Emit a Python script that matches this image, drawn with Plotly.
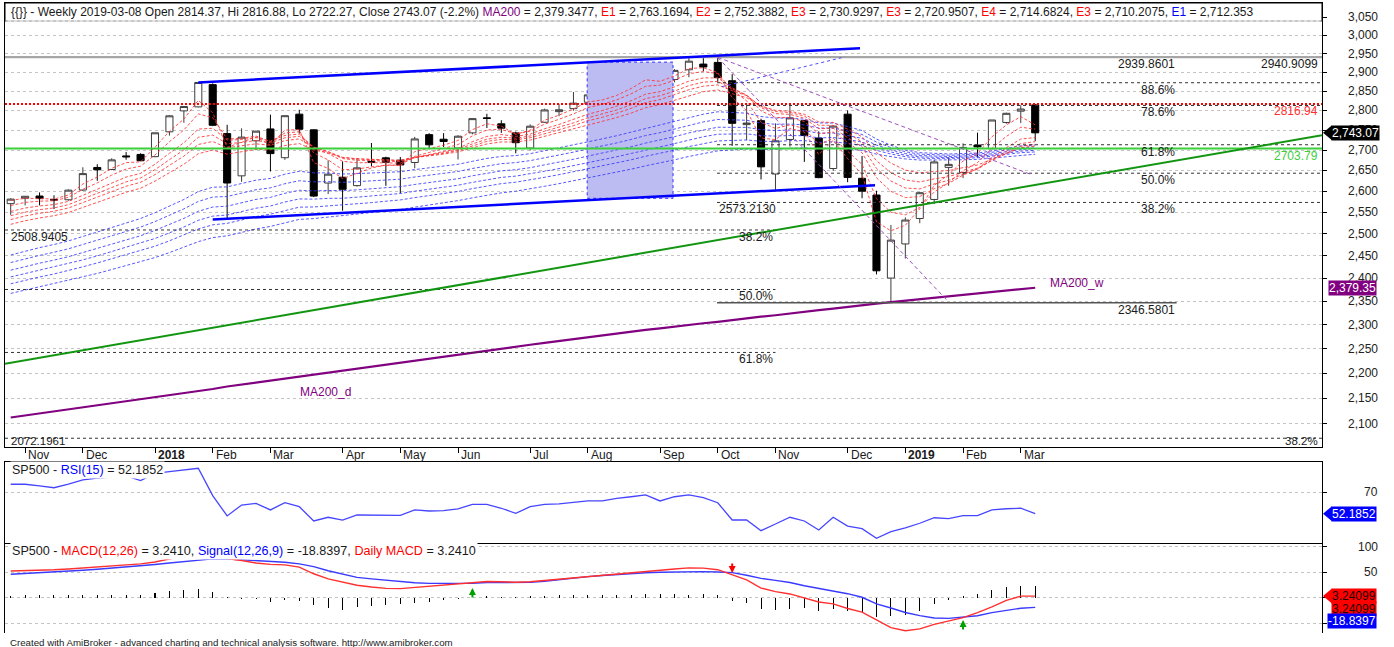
import math
import plotly.graph_objects as go

# ---------------- data (weekly S&P 500, index 0 = 2017-10-27 ... 71 = 2019-03-08) ----------------
open_ = [2570.3, 2583.2, 2588.4, 2580.2, 2579.5, 2602.7, 2657.2, 2652.2, 2685.5, 2689.2,
         2683.7, 2745.6, 2798.9, 2809.2, 2867.2, 2741.1, 2636.8, 2723.0, 2752.9, 2681.1,
         2790.5, 2750.6, 2619.4, 2633.5, 2613.2, 2672.0, 2680.8, 2675.0, 2669.4, 2738.5,
         2727.0, 2705.1, 2742.9, 2781.0, 2765.8, 2742.9, 2705.0, 2769.8, 2797.0, 2804.6,
         2821.2, 2840.3, 2827.9, 2853.9, 2876.2, 2896.9, 2880.7, 2906.6, 2921.8, 2926.3,
         2877.5, 2763.8, 2773.9, 2641.3, 2726.4, 2773.9, 2730.1, 2654.6, 2790.5, 2630.9,
         2590.8, 2400.6, 2477.0, 2535.6, 2580.3, 2657.4, 2644.9, 2712.4, 2703.1, 2769.3,
         2798.2, 2814.37]
high_ = [2583.0, 2588.4, 2597.0, 2590.1, 2604.2, 2657.7, 2665.2, 2679.6, 2695.0, 2692.1,
         2743.5, 2787.9, 2810.3, 2872.9, 2870.6, 2763.4, 2754.4, 2747.8, 2789.2, 2786.6,
         2801.9, 2752.0, 2674.8, 2672.1, 2680.3, 2717.5, 2683.6, 2682.9, 2732.9, 2742.1,
         2742.2, 2736.9, 2779.9, 2791.5, 2775.0, 2746.1, 2764.4, 2804.5, 2816.8, 2848.0,
         2840.4, 2863.4, 2855.6, 2876.2, 2916.5, 2900.2, 2908.3, 2940.9, 2939.9, 2939.86,
         2894.8, 2816.9, 2778.9, 2766.9, 2815.2, 2776.0, 2746.8, 2760.9, 2800.2, 2685.4,
         2601.1, 2520.3, 2538.1, 2597.8, 2675.5, 2681.8, 2716.7, 2743.5, 2775.7, 2794.2,
         2813.5, 2816.88]
low_ = [2544.0, 2566.2, 2566.3, 2557.5, 2577.5, 2600.6, 2624.8, 2650.5, 2676.1, 2673.6,
        2682.4, 2736.1, 2768.6, 2808.1, 2759.97, 2532.69, 2622.5, 2699.8, 2647.5, 2675.8,
        2741.4, 2585.9, 2593.1, 2553.8, 2610.8, 2660.0, 2612.7, 2594.6, 2655.2, 2701.9,
        2707.4, 2676.8, 2739.5, 2755.2, 2743.0, 2692.0, 2699.0, 2768.5, 2785.2, 2799.5,
        2795.1, 2830.9, 2802.5, 2850.0, 2876.2, 2864.1, 2873.2, 2886.8, 2903.3, 2874.3,
        2710.5, 2724.5, 2628.2, 2603.5, 2708.7, 2670.8, 2631.1, 2649.1, 2621.5, 2583.2,
        2408.6, 2346.58, 2444.0, 2524.6, 2569.3, 2612.9, 2631.4, 2681.8, 2702.4, 2766.0,
        2767.7, 2722.27]
close_ = [2581.07, 2587.84, 2582.30, 2578.85, 2602.42, 2642.22, 2651.50, 2675.81, 2683.34, 2673.61,
          2743.15, 2786.24, 2810.30, 2872.87, 2762.13, 2619.55, 2732.22, 2747.30, 2691.25, 2786.57,
          2752.01, 2588.26, 2640.87, 2604.47, 2656.30, 2670.14, 2669.91, 2663.42, 2727.72, 2712.97,
          2721.33, 2734.62, 2779.03, 2779.66, 2754.88, 2718.37, 2759.82, 2801.31, 2801.83, 2818.82,
          2840.35, 2833.28, 2850.13, 2874.69, 2901.52, 2871.68, 2904.98, 2929.67, 2913.98, 2885.57,
          2767.13, 2767.78, 2658.69, 2723.06, 2781.01, 2736.27, 2632.56, 2760.17, 2633.08, 2599.95,
          2416.62, 2485.74, 2531.94, 2596.26, 2670.71, 2664.76, 2706.53, 2707.88, 2775.60, 2792.67,
          2803.69, 2743.07]

month_idx = [1, 5, 10, 14, 18, 23, 27, 31, 36, 40, 45, 49, 53, 58, 62, 66, 70]
month_lbl = ["Nov", "Dec", "2018", "Feb", "Mar", "Apr", "May", "Jun", "Jul", "Aug", "Sep",
             "Oct", "Nov", "Dec", "2019", "Feb", "Mar"]
price_ticks = [2100, 2150, 2200, 2250, 2300, 2350, 2400, 2450, 2500, 2550, 2600, 2650, 2700,
               2750, 2800, 2850, 2900, 2950, 3000, 3050]
rsi_ticks = [70]
macd_ticks = [100, 50]

# short EMA ribbon (red)
ema3 = [2578, 2583, 2582.5, 2581, 2591, 2617, 2634, 2655, 2669, 2671, 2707, 2747, 2778, 2826, 2794,
        2707, 2719, 2733, 2712, 2750, 2751, 2669, 2655, 2630, 2643, 2656, 2663, 2663, 2696, 2704,
        2712, 2724, 2751, 2766, 2760, 2739, 2750, 2775, 2788, 2804, 2822, 2827, 2839, 2857, 2880,
        2876, 2890, 2910, 2912, 2899, 2833, 2800, 2730, 2726, 2754, 2745, 2689, 2724, 2679, 2640,
        2528, 2507, 2520, 2558, 2614, 2640, 2673, 2691, 2733, 2763, 2784, 2763.17]
ema5 = [2566, 2573.3, 2576.2, 2577.1, 2585.4, 2604.3, 2619.9, 2638.6, 2653.4, 2660.3,
        2687.9, 2720.6, 2750.4, 2791.3, 2781.5, 2727.7, 2729.1, 2735.1, 2720.4, 2742.6,
        2745.7, 2693.1, 2675.7, 2651.8, 2653.2, 2658.8, 2662.5, 2662.7, 2684.5, 2694.0,
        2703.0, 2713.7, 2735.5, 2750.3, 2751.9, 2740.6, 2747.1, 2765.1, 2777.4, 2791.3,
        2807.5, 2816.0, 2827.3, 2843.2, 2862.8, 2865.9, 2878.9, 2895.9, 2901.9, 2896.6,
        2853.4, 2824.9, 2769.6, 2754.1, 2763.1, 2754.1, 2713.7, 2729.1, 2697.1, 2664.7,
        2582.1, 2550.1, 2544.1, 2561.4, 2597.9, 2620.3, 2649.2, 2668.8, 2704.5, 2734.0,
        2757.3, 2752.39]
ema8 = [2552, 2560, 2564.9, 2568.1, 2575.6, 2590.4, 2603.9, 2619.9, 2633.9, 2642.8,
        2665.2, 2692.1, 2718.3, 2752.5, 2754.6, 2724.7, 2726.3, 2730.9, 2722.1, 2736.5,
        2739.9, 2706.2, 2691.6, 2672.3, 2668.7, 2669.0, 2669.2, 2667.8, 2681.1, 2688.2,
        2695.5, 2704.3, 2720.9, 2734.0, 2738.7, 2734.1, 2739.8, 2753.4, 2764.2, 2776.3,
        2790.4, 2799.8, 2811.0, 2825.2, 2842.2, 2848.8, 2861.3, 2876.5, 2884.9, 2885.1,
        2858.9, 2838.7, 2798.8, 2781.9, 2781.7, 2771.6, 2740.8, 2745.0, 2720.1, 2693.4,
        2632.0, 2599.6, 2584.6, 2587.1, 2605.7, 2618.8, 2638.4, 2653.9, 2681.0, 2705.9,
        2727.5, 2730.93]
ema10 = [2542, 2550.4, 2556.1, 2560.3, 2567.9, 2581.4, 2594.0, 2608.9, 2622.3, 2631.7,
         2651.9, 2676.2, 2700.5, 2731.8, 2737.3, 2716.0, 2718.9, 2724.0, 2718.0, 2730.5,
         2734.4, 2707.8, 2695.6, 2679.1, 2674.9, 2674.0, 2673.3, 2671.4, 2681.7, 2687.4,
         2693.5, 2701.1, 2715.3, 2727.0, 2732.1, 2729.5, 2735.1, 2747.1, 2757.1, 2768.2,
         2781.2, 2790.6, 2801.4, 2814.8, 2830.6, 2838.1, 2850.2, 2864.7, 2873.7, 2875.9,
         2856.1, 2840.1, 2807.1, 2791.9, 2789.9, 2780.2, 2753.5, 2754.7, 2732.0, 2708.0,
         2655.0, 2624.3, 2607.5, 2605.4, 2617.3, 2625.9, 2640.8, 2653.0, 2675.3, 2696.9,
         2716.1, 2720.95]
ema12 = [2533, 2541.5, 2547.7, 2552.5, 2560.1, 2572.7, 2584.8, 2598.9, 2611.8, 2621.2,
         2639.9, 2662.3, 2685.0, 2713.9, 2721.3, 2705.7, 2709.7, 2715.5, 2711.8, 2723.4,
         2727.8, 2706.3, 2696.1, 2682.0, 2678.0, 2676.8, 2675.8, 2673.8, 2682.1, 2686.8,
         2692.0, 2698.6, 2711.0, 2721.6, 2726.7, 2725.4, 2730.7, 2741.6, 2750.9, 2761.3,
         2773.5, 2782.5, 2792.9, 2805.5, 2820.3, 2828.2, 2840.0, 2853.8, 2863.1, 2866.5,
         2851.2, 2838.4, 2810.8, 2797.2, 2794.7, 2785.7, 2762.2, 2761.9, 2742.1, 2720.3,
         2673.6, 2644.6, 2626.8, 2622.1, 2629.5, 2634.9, 2646.0, 2655.5, 2674.0, 2692.3,
         2709.4, 2714.68]
ema15 = [2522, 2530.3, 2536.8, 2542.1, 2549.6, 2561.1, 2572.3, 2585.3, 2597.5, 2607.1,
         2624.0, 2644.3, 2665.0, 2691.0, 2699.9, 2689.9, 2695.2, 2701.7, 2700.3, 2711.1,
         2716.2, 2700.2, 2692.8, 2681.7, 2678.5, 2677.4, 2676.5, 2674.8, 2681.4, 2685.4,
         2689.9, 2695.5, 2705.9, 2715.2, 2720.2, 2719.9, 2724.9, 2734.4, 2742.8, 2752.3,
         2763.3, 2772.0, 2781.8, 2793.4, 2807.0, 2815.1, 2826.3, 2839.3, 2848.6, 2853.3,
         2842.5, 2833.2, 2811.4, 2800.4, 2798.0, 2790.2, 2770.6, 2769.3, 2752.3, 2733.3,
         2693.8, 2667.8, 2650.8, 2644.0, 2647.4, 2649.6, 2656.8, 2663.2, 2677.3, 2691.8,
         2705.8, 2710.21]
# long EMA ribbon (blue)
ema30 = [2452, 2460.8, 2468.6, 2475.7, 2483.8, 2494.0, 2504.1, 2515.2, 2526.0, 2535.5,
         2549.0, 2564.3, 2580.2, 2599.0, 2609.5, 2610.2, 2618.1, 2626.4, 2630.6, 2640.7,
         2647.9, 2644.0, 2643.8, 2641.2, 2642.2, 2644.0, 2645.7, 2646.8, 2652.0, 2655.9,
         2660.1, 2664.9, 2672.3, 2679.3, 2684.2, 2686.4, 2691.1, 2698.2, 2704.9, 2712.3,
         2720.6, 2727.9, 2735.8, 2744.8, 2754.9, 2762.4, 2771.6, 2781.8, 2790.4, 2796.6,
         2794.7, 2793.0, 2784.4, 2780.4, 2780.4, 2777.5, 2768.2, 2767.7, 2759.0, 2748.8,
         2727.4, 2711.8, 2700.2, 2693.5, 2692.0, 2690.3, 2691.4, 2692.5, 2697.9, 2704.0,
         2710.4, 2712.35]
ema35 = [2435, 2443.5, 2451.1, 2458.1, 2466.0, 2475.7, 2485.4, 2496.1, 2506.4, 2515.6,
         2528.4, 2542.9, 2558.0, 2575.6, 2585.9, 2587.3, 2595.1, 2603.4, 2607.9, 2617.8,
         2625.0, 2622.3, 2622.8, 2621.2, 2622.7, 2625.0, 2627.1, 2628.7, 2634.0, 2638.1,
         2642.5, 2647.4, 2654.7, 2661.5, 2666.5, 2669.1, 2673.9, 2680.9, 2687.5, 2694.8,
         2702.9, 2710.0, 2717.8, 2726.5, 2736.2, 2743.5, 2752.5, 2762.3, 2770.7, 2776.9,
         2775.8, 2774.9, 2767.7, 2764.7, 2765.2, 2763.1, 2755.2, 2755.1, 2747.7, 2738.9,
         2719.9, 2706.1, 2695.8, 2689.9, 2688.6, 2687.2, 2688.3, 2689.4, 2694.4, 2700.0,
         2705.9, 2707.9]
ema40 = [2418, 2426.2, 2433.6, 2440.5, 2448.1, 2457.5, 2466.8, 2476.9, 2486.8, 2495.7,
         2507.9, 2521.5, 2535.7, 2552.3, 2562.3, 2564.4, 2572.2, 2580.4, 2585.2, 2594.9,
         2602.1, 2600.5, 2601.8, 2601.1, 2603.2, 2606.0, 2608.6, 2610.7, 2616.0, 2620.4,
         2624.9, 2629.9, 2637.0, 2643.8, 2648.9, 2651.8, 2656.7, 2663.6, 2670.1, 2677.3,
         2685.1, 2692.2, 2699.7, 2708.1, 2717.4, 2724.7, 2733.3, 2742.8, 2750.9, 2757.2,
         2756.9, 2756.8, 2751.1, 2749.0, 2750.0, 2748.7, 2742.1, 2742.6, 2736.4, 2729.0,
         2712.4, 2700.3, 2691.4, 2686.3, 2685.3, 2684.1, 2685.2, 2686.3, 2690.9, 2696.0,
         2701.4, 2703.4]
ema45 = [2403, 2410.6, 2417.8, 2424.6, 2432.1, 2441.0, 2450.0, 2459.7, 2469.2, 2477.8,
         2489.4, 2502.3, 2515.7, 2531.3, 2541.0, 2543.7, 2551.5, 2559.6, 2564.8, 2574.2,
         2581.5, 2581.0, 2582.9, 2583.1, 2585.7, 2588.8, 2591.9, 2594.4, 2599.9, 2604.4,
         2609.1, 2614.2, 2621.1, 2627.8, 2633.0, 2636.2, 2641.3, 2648.0, 2654.5, 2661.5,
         2669.2, 2676.1, 2683.5, 2691.6, 2700.6, 2707.7, 2716.1, 2725.2, 2733.2, 2739.5,
         2739.9, 2740.5, 2736.1, 2734.8, 2736.3, 2735.7, 2730.4, 2731.3, 2726.3, 2720.0,
         2705.6, 2695.2, 2687.4, 2683.0, 2682.3, 2681.4, 2682.5, 2683.6, 2687.7, 2692.4,
         2697.3, 2699.3]
ema50 = [2388, 2395.8, 2403.0, 2409.6, 2416.9, 2425.5, 2434.1, 2443.4, 2452.6, 2460.9,
         2471.9, 2484.1, 2496.8, 2511.4, 2520.9, 2524.2, 2532.0, 2540.1, 2545.6, 2554.7,
         2562.1, 2562.5, 2565.0, 2566.0, 2569.2, 2572.7, 2576.1, 2579.1, 2584.6, 2589.3,
         2594.2, 2599.3, 2606.1, 2612.7, 2618.0, 2621.5, 2626.7, 2633.3, 2639.7, 2646.6,
         2654.1, 2660.9, 2668.1, 2676.0, 2684.6, 2691.7, 2699.8, 2708.6, 2716.4, 2722.7,
         2723.9, 2725.1, 2721.9, 2721.4, 2723.4, 2723.4, 2719.3, 2720.6, 2716.7, 2711.6,
         2699.2, 2690.3, 2683.6, 2679.9, 2679.4, 2678.7, 2679.8, 2680.9, 2684.7, 2689.0,
         2693.5, 2695.4]
ema60 = [2367, 2374.2, 2381.1, 2387.6, 2394.6, 2402.7, 2410.8, 2419.5, 2428.1, 2436.1,
         2446.2, 2457.4, 2469.0, 2482.2, 2491.4, 2495.6, 2503.3, 2511.3, 2517.2, 2526.1,
         2533.5, 2535.3, 2538.8, 2541.0, 2544.8, 2548.9, 2552.9, 2556.5, 2562.1, 2567.1,
         2572.2, 2577.5, 2584.1, 2590.5, 2595.9, 2599.9, 2605.2, 2611.7, 2618.0, 2624.7,
         2631.9, 2638.6, 2645.6, 2653.1, 2661.2, 2668.1, 2675.9, 2684.2, 2691.7, 2698.1,
         2700.3, 2702.5, 2701.1, 2701.8, 2704.4, 2705.4, 2703.0, 2704.9, 2702.6, 2699.2,
         2689.8, 2683.1, 2678.1, 2675.4, 2675.2, 2674.9, 2676.0, 2677.1, 2680.3, 2684.0,
         2687.9, 2689.7]

ma200 = [2112, 2116, 2120, 2124, 2128, 2132, 2135, 2139, 2143, 2147, 2151,
         2155, 2160, 2164, 2168, 2173, 2177, 2181, 2186, 2190, 2194, 2198,
         2202, 2206, 2210, 2214, 2218, 2222, 2226, 2230, 2234, 2238, 2242,
         2246, 2250, 2254, 2258, 2262, 2266, 2270, 2274, 2278, 2282,
         2285, 2289, 2292, 2296, 2299, 2303, 2306, 2310, 2313, 2317, 2320, 2324, 2327, 2331, 2334,
         2338, 2341, 2345, 2348,
         2351, 2354, 2357, 2360, 2364, 2367, 2370, 2373, 2376, 2379.3477]

rsi15 = [76.7, 76.7, 75.3, 73.8, 76.9, 80.3, 81.9, 83.0, 83.6, 79.7,
         85.8, 87.3, 88.6, 90.0, 67.2, 50.3, 59.4, 60.8, 55.3, 61.3,
         58.0, 46.1, 49.2, 46.9, 51.1, 51.1, 50.9, 50.8, 55.3, 54.4,
         54.7, 56.1, 60.0, 60.0, 56.7, 52.5, 58.0, 60.0, 60.3, 61.7,
         62.8, 62.8, 65.0, 66.3, 67.8, 62.8, 66.3, 67.8, 65.5, 61.3,
         46.9, 46.9, 38.0, 43.6, 49.2, 46.1, 38.6, 49.2, 41.9, 39.7,
         31.7, 37.2, 40.3, 44.2, 48.8, 48.0, 50.5, 50.5, 55.3, 56.3,
         56.7, 52.1852]

macd = [52.5, 53, 53.8, 55, 56.5, 58.5, 60.5, 62.5, 64.5, 66.5,
        70, 76, 82, 88, 84, 77, 73, 68, 65.5, 64.5,
        60, 47, 37, 30, 24.5, 21, 18.5, 18, 20.5, 23,
        25, 27.5, 29.5, 32, 31.5, 30.5, 31.5, 34, 37, 39.5,
        42, 44.2, 47, 50, 52.5, 54.5, 56.5, 58.5, 58, 55,
        45, 35, 19, 12, 7.5, 0, -8.3, -12, -21, -28,
        -44, -58.5, -64.7, -61, -52, -44.8, -39, -29, -18, -5.2,
        3.2, 3.241]
signal = [46.2, 47.5, 49, 50.5, 52.2, 54, 56, 58, 60.3, 62.7,
          65.3, 68, 71, 74, 76.3, 76, 74.5, 73, 72, 69.5,
          66.5, 61, 53, 46, 40, 37, 34.5, 32, 29.3, 28.3,
          28.3, 28.3, 28.5, 29.8, 30.1, 30.1, 30.1, 32.5, 35.5, 39,
          41.5, 43.5, 45.5, 47.5, 49, 50, 50.8, 51.3, 51.3, 50.5,
          49.3, 44, 38, 34, 30, 23.5, 18.5, 13, 8, 1,
          -12, -20, -28.8, -35, -39.5, -40.4, -38.5, -35.2, -29, -25,
          -20.5, -18.8397]
hist = [3.2, 4.5, 4.5, 4.5, 4.5, 4.5, 5.1, 6.4, 6.4, 6.4,
        9.6, 12.8, 16, 17.3, 11.5, 1.3, -1.9, -3.2, -8.3, -5.1,
        -6.4, -14.7, -19.2, -23.7, -17.9, -16, -14.7, -12.8, -9.6, -7.7,
        -5.1, -1.9, 0.5, 3.2, 1.9, 1.9, 3.2, 3.2, 4.5, 4.5,
        5.1, 5.1, 6.4, 6.4, 8.3, 8.3, 7.7, 6.4, 7.7, 4.5,
        -6.4, -10.9, -22.4, -23.7, -21.2, -19.2, -25.6, -21.2, -25.6, -30.1,
        -38.5, -35.3, -34, -25.6, -12.8, -5.1, 3.2, 8.3, 16, 20.5,
        23.7, 22.1]

# drawn studies (x in week index, y in price)
channel_upper_x, channel_upper_y = [13, 58.86], [2872.87, 2964.5]
channel_lower_x, channel_lower_y = [14, 59.9], [2533.0, 2614.0]
blue_dash_x, blue_dash_y = [49.3, 57.8], [2862.0, 2941.0]
fan_a_x, fan_a_y = [49, 70.8], [2939.86, 2639.0]
fan_b_x, fan_b_y = [49, 64.9], [2939.86, 2351.6]
green_trend_x, green_trend_y = [-0.395, 90.875], [2218.9, 2737.0]
box_x, box_y = [39.95, 45.9], [2583.0, 2927.0]
fib_right_levels = [2872.21, 2812.89, 2713.22, 2643.22, 2573.2130]
fib_right_pct = ["88.6%", "78.6%", "61.8%", "50.0%", "38.2%"]
fib_right_low = 2346.5801
fib_right_high = 2939.8601
fib_left_levels = [2508.9405, 2375.5, 2242.07]
fib_left_pct = ["38.2%", "50.0%", "61.8%"]
fib_left_bottom = 2072.1961
hline_gray = 2940.9099
hline_red = 2816.94
hline_green = 2703.79
arrow_up = [(32, 19.0), (66, -43.5)]
arrow_down = [(50, 48.6)]

# ---------------- geometry ----------------
W, H = 1394, 647
ML, MR, MT, MB = 5, 72, 3, 14
PW, PH = W - ML - MR, H - MT - MB


def py2paper(py):
    return (H - MB - py) / PH


def px2paper(px):
    return (px - ML) / PW


DOM_MAIN = [py2paper(447), 1.0]
DOM_RSI = [py2paper(543), py2paper(462)]
DOM_MACD = [0.0, py2paper(543)]
X_RANGE = [-0.395, 90.875]
YR = [math.log10(2055.6), math.log10(3090.4)]
RSI_RANGE = [27.75, 95.25]
MACD_RANGE = [-69.0, 107.3]
XL, XR = X_RANGE
L = math.log10
FONT = "Liberation Sans, Arial, sans-serif"

weeks = list(range(len(close_)))

fig = go.Figure()


def line(x, y, color, width=1, dash="solid", ax="", op=1.0):
    fig.add_trace(go.Scatter(x=x, y=y, mode="lines", line=dict(color=color, width=width, dash=dash),
                             opacity=op, xaxis="x" + ax, yaxis="y" + ax, showlegend=False,
                             hoverinfo="skip"))


# selection box
fig.add_trace(go.Scatter(x=[box_x[0], box_x[1], box_x[1], box_x[0], box_x[0]],
                         y=[box_y[0], box_y[0], box_y[1], box_y[1], box_y[0]],
                         mode="lines", fill="toself", fillcolor="#bcbcf2",
                         line=dict(color="#3030ff", width=1, dash="dot"), showlegend=False,
                         hoverinfo="skip"))

# ribbons
for s in [ema60, ema50, ema45, ema40, ema35, ema30]:
    line(weeks, s, "#3a3aff", 1, "3px,2px", op=0.85)
for s in [ema15, ema12, ema10, ema8, ema5, ema3]:
    line(weeks, s, "#ff3030", 1, "3px,2px", op=0.85)

# MA200
line(weeks, ma200, "#800080", 2.2)

# candles
fig.add_trace(go.Candlestick(x=weeks, open=open_, high=high_, low=low_, close=close_,
                             increasing=dict(line=dict(color="#3c3c3c", width=1), fillcolor="white"),
                             decreasing=dict(line=dict(color="black", width=1), fillcolor="black"),
                             whiskerwidth=0, showlegend=False, hoverinfo="skip"))

# horizontal levels
line([XL, XR], [hline_gray, hline_gray], "#a6a6a6", 2)
line([XL, XR], [fib_right_high, fib_right_high], "#a6a6a6", 1.5)
line([XL, XR], [hline_red, hline_red], "#ff0000", 2, "2px,2px")
line([XL, XR], [hline_green, hline_green], "#3ccf3c", 2)
for v in fib_right_levels:
    line([48.95, XR], [v, v], "#333333", 1, "3px,3px")
line([48.95, 80.8], [fib_right_low, fib_right_low], "#555555", 1.5)
for v in fib_left_levels:
    line([XL, 53.0], [v, v], "#333333", 1, "3px,3px")
line([XL, XR], [fib_left_bottom, fib_left_bottom], "#333333", 1, "3px,3px")

# trend lines
line(green_trend_x, green_trend_y, "#129612", 2)
line(channel_upper_x, channel_upper_y, "#0000ff", 2.5)
line(channel_lower_x, channel_lower_y, "#0000ff", 2.5)
line(blue_dash_x, blue_dash_y, "#4a4aff", 1, "3px,3px")
line(fan_a_x, fan_a_y, "#a050c0", 1, "4px,3px")
line(fan_b_x, fan_b_y, "#a050c0", 1, "4px,3px")

# RSI
line(weeks, rsi15, "#4646ff", 1.3, ax="2")

# MACD
fig.add_trace(go.Bar(x=weeks, y=hist, width=0.07, marker=dict(color="black", line=dict(width=0)),
                     xaxis="x3", yaxis="y3", showlegend=False, hoverinfo="skip"))
line(weeks, signal, "#3a3aff", 1.4, ax="3")
line(weeks, macd, "#ff3030", 1.4, ax="3")

# ---------------- annotations ----------------
ann = []


def txt(text, x, y, xref="paper", yref="paper", xanchor="left", yanchor="middle", size=12,
        color="#1a1a1a", **kw):
    d = dict(text=text, x=x, y=y, xref=xref, yref=yref, xanchor=xanchor, yanchor=yanchor,
             showarrow=False, font=dict(family=FONT, size=size, color=color))
    d.update(kw)
    ann.append(d)


# axis tick labels (right aligned)
for v in price_ticks:
    txt(f"{v:,}", px2paper(1380), L(v), yref="y", xanchor="right", color="#222")
for v in rsi_ticks:
    txt(str(v), px2paper(1380), v, yref="y2", xanchor="right", color="#222")
for v in macd_ticks:
    txt(str(v), px2paper(1380), v, yref="y3", xanchor="right", color="#222")

# month labels
for i, lb in zip(month_idx, month_lbl):
    t = f"<b>{lb}</b>" if lb.isdigit() else lb
    txt(t, i, py2paper(455), xref="x", xshift=1, color="#1a1a1a")

# level labels
for v, p in zip(fib_right_levels, fib_right_pct):
    txt(p, px2paper(1177), L(v), yref="y", xanchor="right", yshift=-7)
txt(f"{fib_right_high:.4f}", px2paper(1177), L(fib_right_high), yref="y", xanchor="right", yshift=-7)
txt(f"{hline_gray:.4f}", px2paper(1320), L(hline_gray), yref="y", xanchor="right", yshift=-7)
txt(f"{hline_red:.2f}", px2paper(1320), L(hline_red), yref="y", xanchor="right", yshift=-7,
    color="#ff3030")
txt(f"{hline_green:.2f}", px2paper(1320), L(hline_green), yref="y", xanchor="right", yshift=-7,
    color="#3ccf3c")
txt(f"{fib_right_levels[-1]:.4f}", px2paper(717), L(fib_right_levels[-1]), yref="y", yshift=-7)
txt(f"{fib_right_low:.4f}", px2paper(1177), L(fib_right_low), yref="y", xanchor="right", yshift=-7)
txt(f"{fib_left_levels[0]:.4f}", px2paper(9), L(fib_left_levels[0]), yref="y", yshift=-7)
for v, p in zip(fib_left_levels, fib_left_pct):
    txt(p, px2paper(775), L(v), yref="y", xanchor="right", yshift=-7)
txt(f"{fib_left_bottom:.4f}", px2paper(9), L(fib_left_bottom), yref="y", yshift=-3, size=11.5)
txt("38.2%", px2paper(1320), L(fib_left_bottom), yref="y", xanchor="right", yshift=-3, size=11.5)
txt("MA200_w", px2paper(1048), py2paper(283), color="#800080")
txt("MA200_d", px2paper(298), py2paper(392), color="#800080")

# title
R, B, P = "#ff0000", "#0000ff", "#800080"
title = ("{{}} - Weekly 2019-03-08 Open 2814.37, Hi 2816.88, Lo 2722.27, Close 2743.07 (-2.2%) "
         f"<span style='color:{P}'>MA200</span> = 2,379.3477, "
         f"<span style='color:{R}'>E1</span> = 2,763.1694, "
         f"<span style='color:{R}'>E2</span> = 2,752.3882, "
         f"<span style='color:{R}'>E3</span> = 2,730.9297, "
         f"<span style='color:{R}'>E3</span> = 2,720.9507, "
         f"<span style='color:{R}'>E4</span> = 2,714.6824, "
         f"<span style='color:{R}'>E3</span> = 2,710.2075, "
         f"<span style='color:{B}'>E1</span> = 2,712.353")
txt(title, px2paper(9), py2paper(12), size=12)
txt(f"SP500 - <span style='color:{B}'>RSI(15)</span> = 52.1852", px2paper(10), py2paper(470),
    bgcolor="white", size=12.5)
txt(f"SP500 - <span style='color:{R}'>MACD(12,26)</span> = 3.2410, "
    f"<span style='color:{B}'>Signal(12,26,9)</span> = -18.8397, "
    f"<span style='color:{R}'>Daily MACD</span> = 3.2410", px2paper(10), py2paper(550.5),
    bgcolor="white", size=12.6)
txt("Created with AmiBroker - advanced charting and technical analysis software. http://www.amibroker.com",
    px2paper(8), py2paper(642.5), size=9.7)

# value flags
txt(f"{close_[-1]:,.2f}", px2paper(1331), L(close_[-1]), yref="y", bgcolor="black", color="white",
    borderpad=0)
txt("2,379.35", px2paper(1328), L(ma200[-1]), yref="y", bgcolor="#800080", color="white", borderpad=0)
txt(f"{rsi15[-1]:.4f}", px2paper(1331), rsi15[-1], yref="y2", bgcolor="#0000ff", color="white",
    borderpad=0)
txt("3.24099", px2paper(1331), macd[-1], yref="y3", bgcolor="#ff0000", color="#200000", borderpad=0)
txt("3.24099", px2paper(1331), macd[-1], yref="y3", bgcolor="#ff0000", color="#200000", borderpad=0,
    yshift=-13)
txt(f"{signal[-1]:.4f}", px2paper(1327), signal[-1], yref="y3", bgcolor="#0000ff", color="white",
    borderpad=0, yshift=-14)

# crossover arrows
for x, y in arrow_up:
    ann.append(dict(x=x, y=y, xref="x3", yref="y3", text="", showarrow=True, ax=0, ay=11,
                    arrowhead=2, arrowsize=0.7, arrowwidth=2, arrowcolor="#00a000"))
for x, y in arrow_down:
    ann.append(dict(x=x, y=y, xref="x3", yref="y3", text="", showarrow=True, ax=0, ay=-11,
                    arrowhead=2, arrowsize=0.7, arrowwidth=2, arrowcolor="#ff0000"))


# ---------------- shapes ----------------
def main_py(v):
    return DOM_MAIN[0] + (L(v) - YR[0]) / (YR[1] - YR[0]) * (DOM_MAIN[1] - DOM_MAIN[0])


def lin_py(v, rng, dom):
    return dom[0] + (v - rng[0]) / (rng[1] - rng[0]) * (dom[1] - dom[0])


def tri(yc, color):
    hh = 7.5 / PH
    x0, x1 = px2paper(1323), px2paper(1332)
    return dict(type="path", xref="paper", yref="paper", layer="above",
                path=f"M {x0},{yc} L {x1},{yc + hh} L {x1},{yc - hh} Z",
                fillcolor=color, line=dict(width=0))


shapes = [
    dict(type="rect", xref="paper", yref="paper", x0=0, x1=1, y0=py2paper(21), y1=1,
         fillcolor="white", line=dict(color="black", width=1), layer="above"),
    dict(type="line", xref="paper", yref="paper", x0=0.001, x1=0.999, y0=py2paper(21), y1=py2paper(21),
         line=dict(color="white", width=1.5), layer="above"),
    dict(type="line", xref="paper", yref="paper", x0=0, x1=1, y0=py2paper(21), y1=py2paper(21),
         line=dict(color="#b0b0b0", width=1, dash="dot"), layer="above"),
    tri(main_py(close_[-1]), "black"),
    tri(lin_py(rsi15[-1], RSI_RANGE, DOM_RSI), "#0000ff"),
    tri(lin_py(macd[-1], MACD_RANGE, DOM_MACD), "#ff0000"),
]

grid = dict(showgrid=True, gridcolor="#c4c4c4", griddash="dot", gridwidth=1, zeroline=False)
axline = dict(showline=True, linecolor="black", linewidth=1, mirror=True)

fig.update_layout(
    width=W, height=H, margin=dict(l=ML, r=MR, t=MT, b=MB),
    paper_bgcolor="white", plot_bgcolor="white", showlegend=False, hovermode=False,
    dragmode=False, bargap=0, font=dict(family=FONT, size=12, color="#1a1a1a"),
    xaxis=dict(domain=[0, 1], range=X_RANGE, anchor="y", showgrid=False, zeroline=False,
               tickvals=month_idx, ticks="outside", ticklen=5, tickcolor="black",
               showticklabels=False, rangeslider=dict(visible=False), **axline),
    yaxis=dict(domain=DOM_MAIN, type="log", range=YR, side="right", anchor="x",
               tickvals=price_ticks, ticks="outside", ticklen=4, tickcolor="black",
               showticklabels=False, **grid, **axline),
    xaxis2=dict(domain=[0, 1], range=X_RANGE, anchor="y2", matches="x", showgrid=False,
                zeroline=False, showticklabels=False, ticks="", **axline),
    yaxis2=dict(domain=DOM_RSI, range=RSI_RANGE, side="right", anchor="x2", tickvals=rsi_ticks,
                ticks="outside", ticklen=4, tickcolor="black", showticklabels=False, **grid, **axline),
    xaxis3=dict(domain=[0, 1], range=X_RANGE, anchor="y3", matches="x", showgrid=False,
                zeroline=False, showticklabels=False, ticks="", showline=False),
    yaxis3=dict(domain=DOM_MACD, range=MACD_RANGE, side="right", anchor="x3",
                tickvals=[-50, 0, 50, 100], ticks="outside", ticklen=4, tickcolor="black",
                showticklabels=False, **grid, showline=True, linecolor="black", linewidth=1,
                mirror=True),
    annotations=ann, shapes=shapes,
)

fig.write_html("out.html", config=dict(displayModeBar=False, staticPlot=True))
